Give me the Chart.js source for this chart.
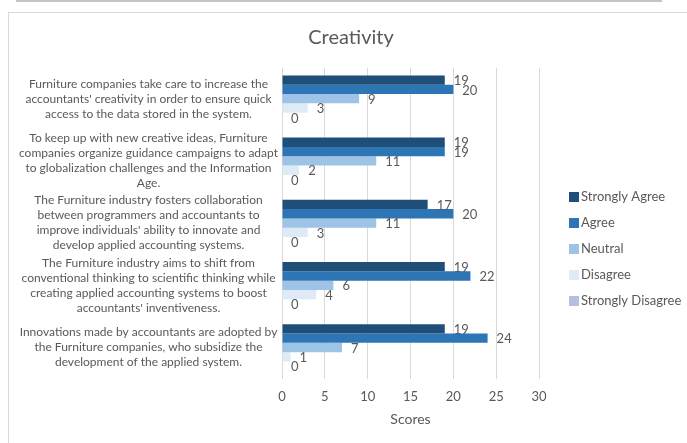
<!DOCTYPE html>
<html>
<head>
<meta charset="utf-8">
<script src="https://cdn.jsdelivr.net/npm/chart.js@4/dist/chart.umd.min.js"></script>
<style>
  html, body { margin: 0; padding: 0; background: #ffffff; overflow: hidden; }
  #topline { position: absolute; left: 16px; top: 0; width: 646px; height: 2px; background: #c4c4c4; }
  #frame { position: absolute; left: 8px; top: 12px; width: 720px; height: 480px; border: 1px solid #d9d9d9; }
  #wrap { position: absolute; left: 9px; top: 13px; width: 678px; height: 430px; }
</style>
</head>
<body>
<div id="topline"></div>
<div id="frame"></div>
<div id="wrap"><canvas id="c"></canvas></div>
<script>
// ---- data ----
const categories = [
  ["Furniture companies take care to increase the", "accountants' creativity in order to ensure quick", "access to the data stored in the system."],
  ["To keep up with new creative ideas, Furniture", "companies organize guidance campaigns to adapt", "to globalization challenges and the Information", "Age."],
  ["The Furniture industry fosters collaboration", "between programmers and accountants to", "improve individuals' ability to innovate and", "develop applied accounting systems."],
  ["The Furniture industry aims to shift from", "conventional thinking to scientific thinking while", "creating applied accounting systems to boost", "accountants' inventiveness."],
  ["Innovations made by accountants are adopted by", "the Furniture companies, who subsidize the", "development of the applied system."]
];
const seriesNames = ["Strongly Agree", "Agree", "Neutral", "Disagree", "Strongly Disagree"];
const stronglyAgree    = [19, 19, 17, 19, 19];
const agree            = [20, 19, 20, 22, 24];
const neutral          = [9, 11, 11, 6, 7];
const disagree         = [3, 2, 3, 4, 1];
const stronglyDisagree = [0, 0, 0, 0, 0];
const xTicks = [0, 5, 10, 15, 20, 25, 30];
const chartTitle = "Creativity";
const xAxisTitle = "Scores";

const colors = ["#1F4E79", "#2E75B6", "#9DC3E6", "#DEEBF7", "#B4C0E2"];
const seriesValues = [stronglyAgree, agree, neutral, disagree, stronglyDisagree];
const FONT = "Lato, 'Liberation Sans', sans-serif";
const TXT = "#595959";

const valueLabels = {
  id: 'valueLabels',
  afterDatasetsDraw(chart) {
    const ctx = chart.ctx;
    ctx.save();
    ctx.font = "13px " + FONT;
    ctx.fillStyle = TXT;
    ctx.textAlign = 'left';
    ctx.textBaseline = 'middle';
    chart.data.datasets.forEach((ds, di) => {
      const meta = chart.getDatasetMeta(di);
      meta.data.forEach((el, i) => {
        ctx.fillText(String(ds.data[i]), el.x + 9, el.y + 1);
      });
    });
    ctx.restore();
  }
};

const customLegend = {
  id: 'customLegend',
  afterDraw(chart) {
    const ctx = chart.ctx;
    ctx.save();
    ctx.font = "13px " + FONT;
    ctx.textAlign = 'left';
    ctx.textBaseline = 'middle';
    chart.data.datasets.forEach((ds, i) => {
      const cy = 184 + i * 26;
      ctx.fillStyle = ds.backgroundColor;
      ctx.fillRect(560, cy - 5, 10, 10);
      ctx.fillStyle = TXT;
      ctx.fillText(ds.label, 572, cy);
    });
    ctx.restore();
  }
};

new Chart(document.getElementById('c'), {
  type: 'bar',
  data: {
    labels: categories,
    datasets: seriesNames.map((n, i) => ({
      label: n,
      data: seriesValues[i],
      backgroundColor: colors[i],
      borderWidth: 0,
      categoryPercentage: 0.75,
      barPercentage: 1.0
    }))
  },
  options: {
    indexAxis: 'y',
    responsive: true,
    maintainAspectRatio: false,
    animation: false,
    devicePixelRatio: 1,
    layout: { padding: { left: 6, right: 0, top: 0, bottom: 15 } },
    plugins: {
      legend: { display: false },
      tooltip: { enabled: false },
      title: {
        display: true,
        text: chartTitle,
        color: TXT,
        font: { family: FONT, size: 20, weight: 'normal' },
        padding: { top: 13, bottom: 17.6 }
      }
    },
    scales: {
      x: {
        min: 0, max: 30,
        afterBuildTicks(scale) { scale.ticks = xTicks.map(v => ({ value: v })); },
        afterFit(scale) { scale.height = 49.4; },
        grid: { color: "#D9D9D9", lineWidth: 1, drawTicks: false },
        border: { display: false },
        ticks: { color: TXT, font: { family: FONT, size: 13 }, padding: 10 },
        title: { display: true, text: xAxisTitle, color: TXT, font: { family: FONT, size: 14 }, padding: { top: 7, bottom: 0 } }
      },
      y: {
        grid: { display: false, drawTicks: false },
        border: { display: false },
        afterFit(scale) { scale.width = 267; },
        ticks: {
          color: TXT,
          autoSkip: false,
          crossAlign: 'center',
          padding: 4,
          font: { family: FONT, size: 12, lineHeight: 1.25 }
        }
      },
      yRight: {
        type: 'linear',
        position: 'right',
        display: true,
        grid: { display: false, drawTicks: false },
        border: { display: false },
        ticks: { display: false },
        afterFit(scale) { scale.width = 148; }
      }
    }
  },
  plugins: [valueLabels, customLegend]
});
</script>
</body>
</html>
